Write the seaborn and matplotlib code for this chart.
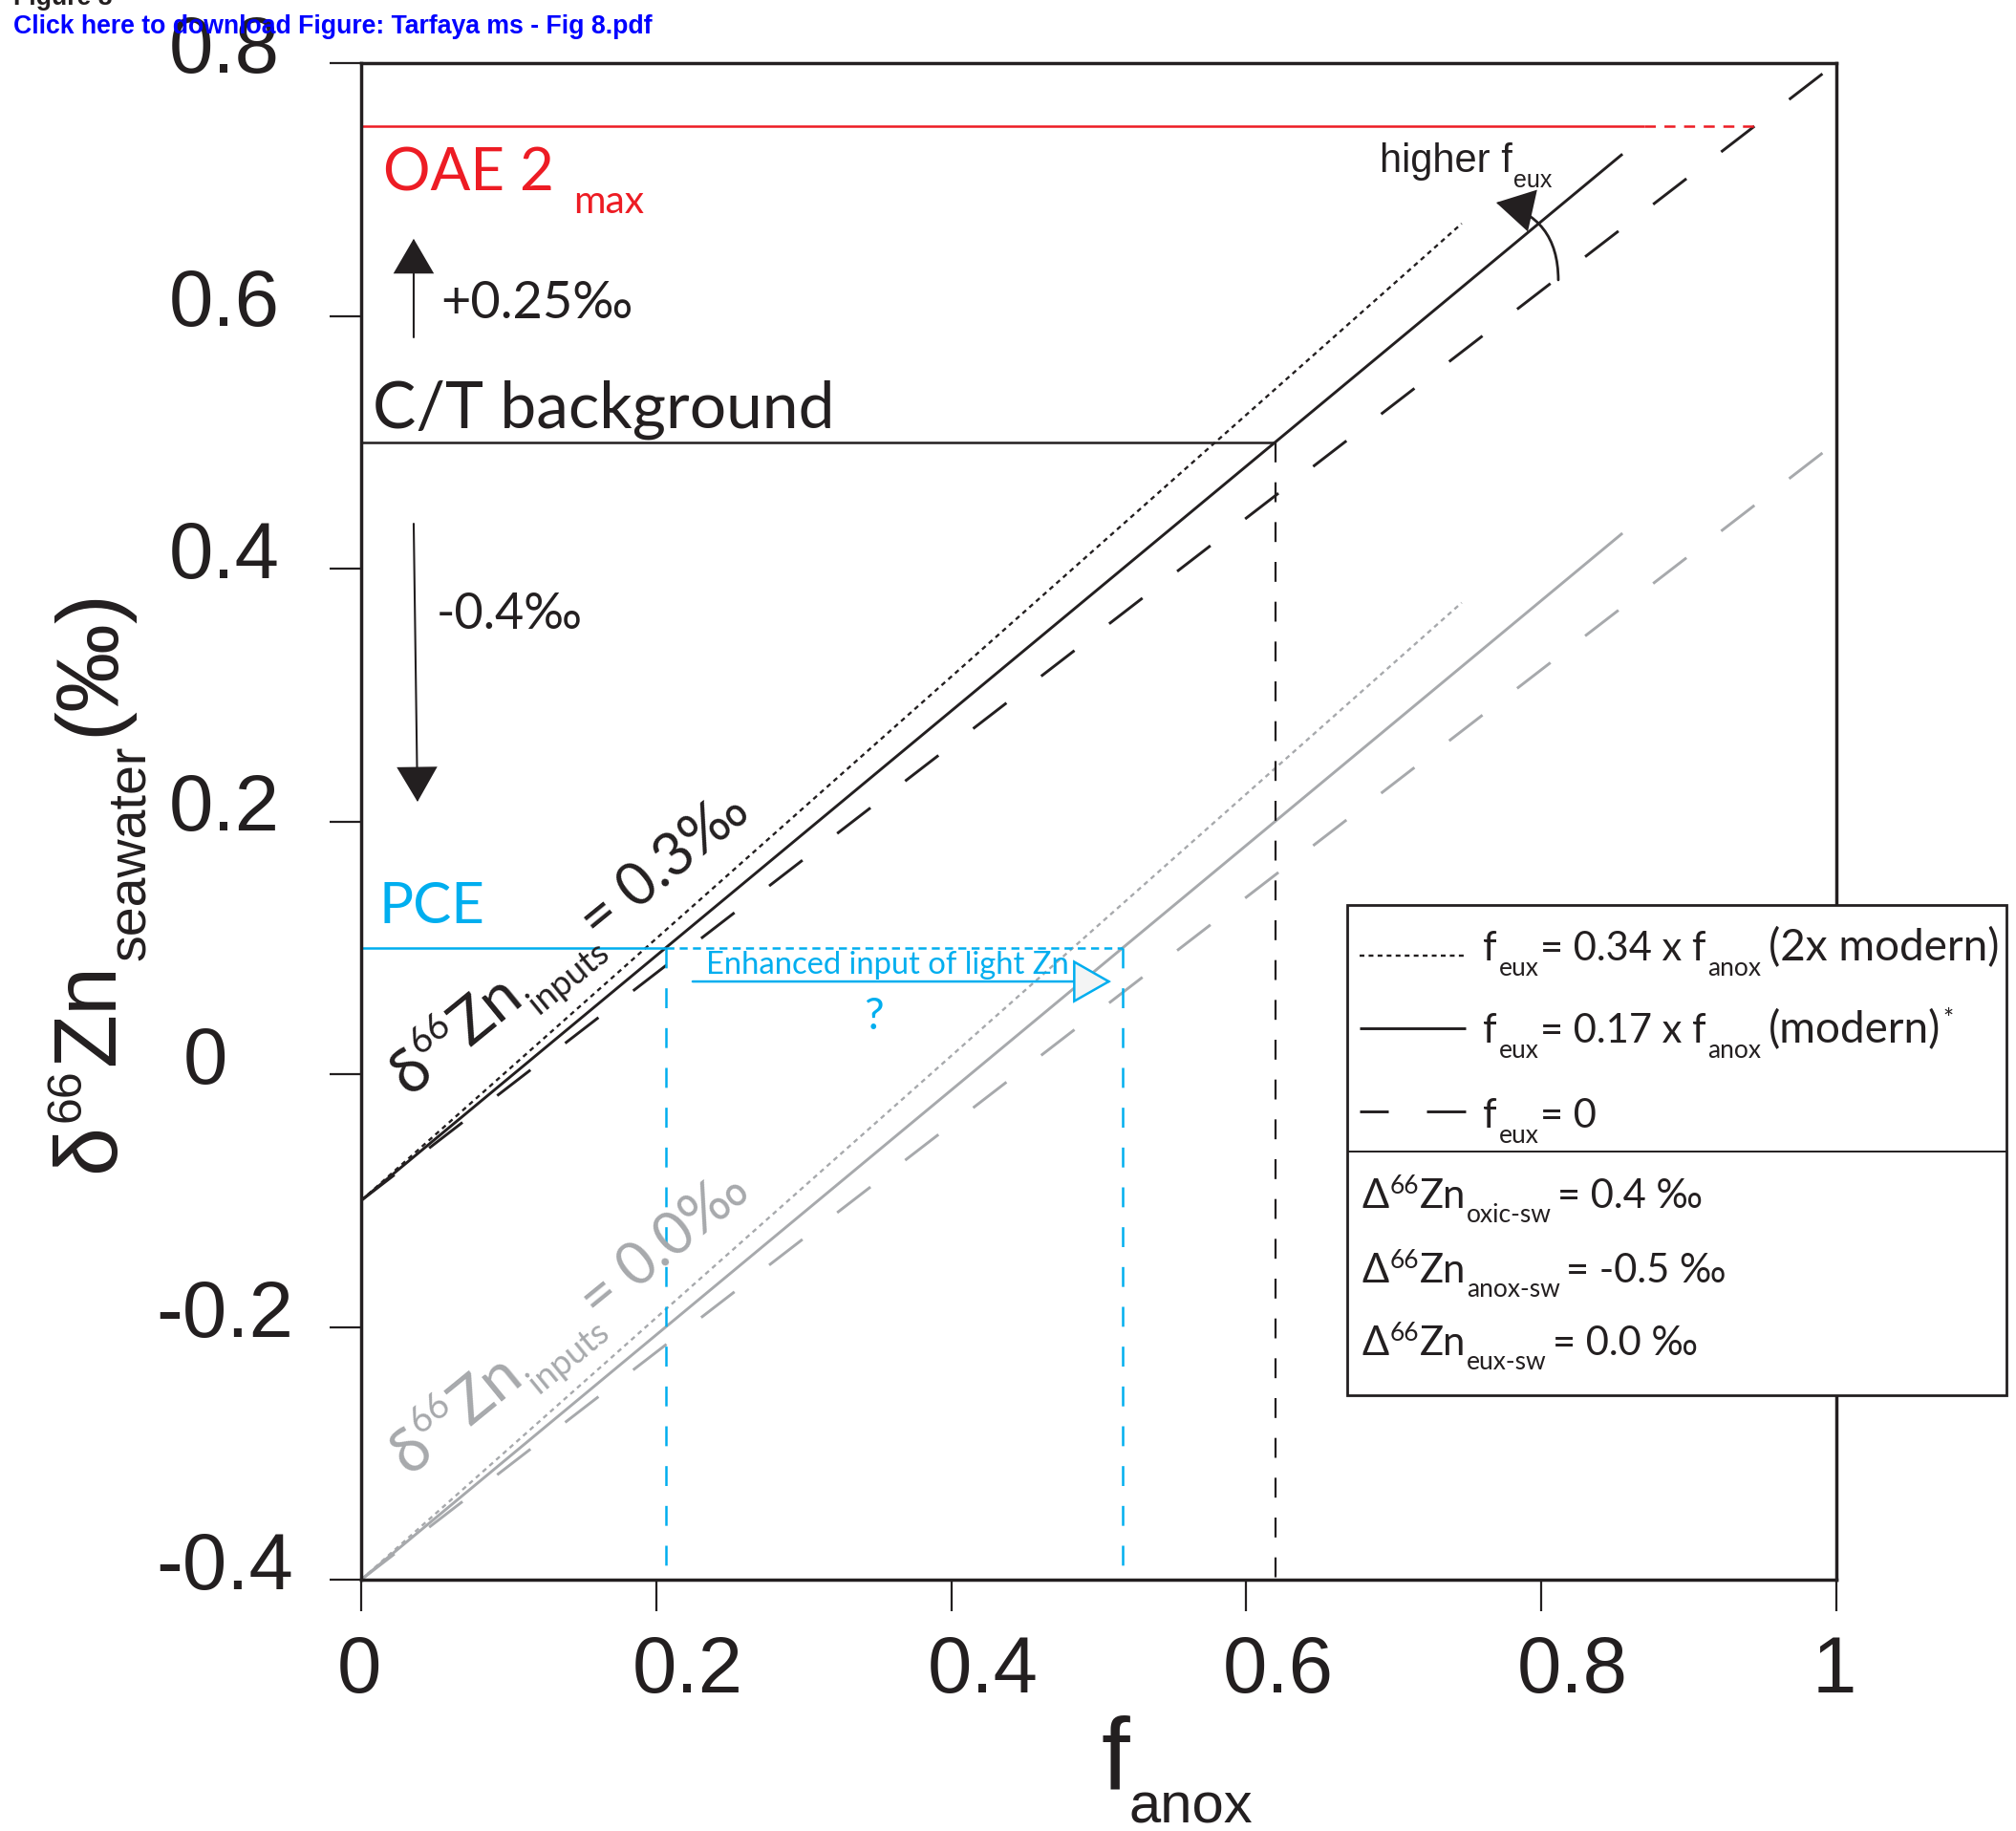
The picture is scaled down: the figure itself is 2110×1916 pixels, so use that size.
import math

import matplotlib
matplotlib.use("Agg")
import matplotlib.pyplot as plt
import numpy as np
import pandas as pd
import seaborn as sns
from matplotlib.lines import Line2D
from matplotlib.patches import FancyArrowPatch, Rectangle
from matplotlib.transforms import IdentityTransform, ScaledTranslation

W, H, DPI = 2110, 1916, 100

# ---------------------------------------------------------------- data --
# Seawater δ66Zn against the anoxic sink fraction, one straight line per
# euxinic scenario, for two values of the δ66Zn of the inputs.
scenario = ["2x modern", "modern", "no euxinia"]
f_anox_end = [0.746, 0.855, 1.0]
sw_inputs03_start = [-0.1, -0.1, -0.1]
sw_inputs03_end = [0.673, 0.728, 0.8]
sw_inputs00_start = [-0.4, -0.4, -0.4]
sw_inputs00_end = [0.373, 0.428, 0.5]

# horizontal reference levels (‰) and where they meet the model lines
oae2_max = 0.75
oae2_f_anox = [0.0, 0.87, 0.944]
ct_background = 0.5
ct_f_anox = 0.62
pce = 0.1
pce_f_anox = [0.0, 0.2066, 0.5165]

# shift arrows (f_anox, start δ66Zn, end δ66Zn)
rise_arrow = [0.0356, 0.583, 0.661]
fall_arrow = [0.0356, 0.4355, 0.2155]

x_ticks = [0, 0.2, 0.4, 0.6, 0.8, 1.0]
x_tick_labels = ["0", "0.2", "0.4", "0.6", "0.8", "1"]
y_ticks = [-0.4, -0.2, 0, 0.2, 0.4, 0.6, 0.8]
y_tick_labels = ["-0.4", "-0.2", "0", "0.2", "0.4", "0.6", "0.8"]

# --------------------------------------------------------------- style --
BLACK = "#231f20"
GREY = "#a7a9ac"
BLUE = "#00aeef"
RED = "#ed1c24"
LINK = "#0000ff"
SANS = ["Liberation Sans", "DejaVu Sans"]
HUMAN = ["Lato", "DejaVu Sans"]

sns.set_theme(style="white")
plt.rcParams["font.family"] = SANS
plt.rcParams["lines.scale_dashes"] = False
plt.rcParams["lines.solid_capstyle"] = "butt"
plt.rcParams["lines.dash_capstyle"] = "butt"

fig = plt.figure(figsize=(W / DPI, H / DPI), dpi=DPI)
fig.patch.set_facecolor("white")
AX_L, AX_R, AX_T, AX_B = 378, 1922, 66, 1653
ax = fig.add_axes([AX_L / W, 1 - AX_B / H, (AX_R - AX_L) / W, (AX_B - AX_T) / H])
ax.set_facecolor("white")

LONG_DASH = (0, (31.7, 33.0))
DOTTED = (0, (3.6, 3.2))
line_style = {"2x modern": (DOTTED, 1.7), "modern": ("-", 2.1), "no euxinia": (LONG_DASH, 2.1)}

rows = []
for inputs, starts, ends in (("0.3", sw_inputs03_start, sw_inputs03_end),
                             ("0.0", sw_inputs00_start, sw_inputs00_end)):
    for sc, fe, y0, y1 in zip(scenario, f_anox_end, starts, ends):
        rows.append(dict(inputs=inputs, scenario=sc, f_anox=0.0, d66=y0))
        rows.append(dict(inputs=inputs, scenario=sc, f_anox=fe, d66=y1))
model = pd.DataFrame(rows)

for (inputs, sc), grp in model.groupby(["inputs", "scenario"], sort=False):
    ls, lw = line_style[sc]
    sns.lineplot(data=grp, x="f_anox", y="d66", color=BLACK if inputs == "0.3" else GREY,
                 linewidth=lw, linestyle=ls, estimator=None, sort=False, ax=ax, zorder=3)


def hline(xs, y, color, lw, ls="-"):
    sns.lineplot(x=xs, y=[y] * len(xs), color=color, linewidth=lw, linestyle=ls,
                 estimator=None, sort=False, ax=ax, zorder=4)


def vline(x, y0, y1, color, lw, ls):
    sns.lineplot(x=[x, x], y=[y0, y1], color=color, linewidth=lw, linestyle=ls,
                 estimator=None, sort=False, ax=ax, zorder=4)


# OAE 2 maximum
hline(oae2_f_anox[:2], oae2_max, RED, 1.8)
hline(oae2_f_anox[1:], oae2_max, RED, 1.8, (0, (8.3, 6.5)))
# C/T background
hline([0.0, ct_f_anox], ct_background, BLACK, 1.8)
vline(ct_f_anox, ct_background, -0.4, BLACK, 1.6, (0, (15, 15)))
# PCE
hline(pce_f_anox[:2], pce, BLUE, 1.8)
hline(pce_f_anox[1:], pce, BLUE, 1.8, (0, (6, 4)))
for f in pce_f_anox[1:]:
    vline(f, pce, -0.4, BLUE, 1.8, (0, (15, 15)))

ax.set_xlim(0, 1)
ax.set_ylim(-0.4, 0.8)
ax.set_xlabel("")
ax.set_ylabel("")


def arrow(p0, p1, ec, fc, lw, hl, hw, rad=0.0, z=6):
    ax.add_patch(FancyArrowPatch(
        p0, p1, arrowstyle=f"-|>,head_length={hl},head_width={hw}",
        connectionstyle=f"arc3,rad={rad}", mutation_scale=1, shrinkA=0, shrinkB=0,
        edgecolor=ec, facecolor=fc, linewidth=lw, zorder=z, joinstyle="miter"))


arrow((rise_arrow[0], rise_arrow[1]), (rise_arrow[0], rise_arrow[2]), BLACK, BLACK, 1.5, 24, 14)
arrow((fall_arrow[0], fall_arrow[1]), (fall_arrow[0] + 0.0026, fall_arrow[2]), BLACK, BLACK, 1.5, 24, 14)
arrow((0.2247, 0.0733), (0.5084, 0.0733), BLUE, "#f3f4f4", 1.8, 26, 14.8, z=7)
arrow((0.8115, 0.6284), (0.7694, 0.6896), BLACK, BLACK, 2.0, 25, 14.4, rad=0.4)

# ---------------------------------------------------------------- axes --
ax.set_xticks(x_ticks)
ax.set_xticklabels(x_tick_labels)
ax.set_yticks(y_ticks)
ax.set_yticklabels(y_tick_labels)
ax.tick_params(axis="both", which="major", direction="out", length=24, width=1.6,
               color=BLACK, labelsize=60, labelcolor=BLACK,
               bottom=True, left=True, top=False, right=False)
ax.tick_params(axis="x", pad=17)
ax.tick_params(axis="y", pad=79)
for sp in ax.spines.values():
    sp.set_visible(True)
    sp.set_color(BLACK)
    sp.set_linewidth(2.5)
    sp.set_zorder(5)

shift_x = ScaledTranslation(-25 / DPI, 0, fig.dpi_scale_trans)
for lbl in ax.get_xticklabels():
    lbl.set_horizontalalignment("left")
    lbl.set_transform(lbl.get_transform() + shift_x)
for lbl in ax.get_yticklabels():
    dx = -20 if lbl.get_text() == "0" else 0
    lbl.set_horizontalalignment("center")
    lbl.set_verticalalignment("baseline")
    lbl.set_transform(lbl.get_transform()
                      + ScaledTranslation(dx / DPI, -10 / DPI, fig.dpi_scale_trans))

# ---------------------------------------------------------------- text --
renderer = fig.canvas.get_renderer()
PIX = IdentityTransform()


def measure(s, size, family, weight="normal"):
    t = fig.text(0, 0, s, fontsize=size, family=family, weight=weight, transform=PIX)
    w = t.get_window_extent(renderer).width
    t.remove()
    return w


def fit(s, width, family, weight="normal"):
    return 40 * width / measure(s, 40, family, weight)


def put(x, y, s, size, color=BLACK, family=HUMAN, weight="normal", ha="left", z=12):
    """Place text with its baseline at pixel (x, y), y counted from the top."""
    fig.text(x, H - y, s, transform=PIX, fontsize=size, family=family, weight=weight,
             color=color, ha=ha, va="baseline", zorder=z)


def chain(x, y, pieces, angle=0.0, color=BLACK, family=HUMAN, z=12):
    """Run text pieces along one baseline that starts at pixel (x, y).
    Each piece is (text, size, rise_px, gap_px)."""
    a = math.radians(angle)
    ca, sa = math.cos(a), math.sin(a)
    bx, by = x, H - y
    for s, size, rise, gap in pieces:
        bx += ca * gap
        by += sa * gap
        fig.text(bx - sa * rise, by + ca * rise, s, transform=PIX, fontsize=size,
                 family=family, color=color, rotation=angle, rotation_mode="anchor",
                 ha="left", va="baseline", zorder=z)
        w = measure(s, size, family)
        bx += ca * w
        by += sa * w


# page header
hdr = "Click here to download Figure: Tarfaya ms - Fig 8.pdf"
hdr_size = fit(hdr, 670, SANS, "bold")
put(14, 5, "Figure 8", hdr_size, BLACK, SANS, "bold")
put(14, 35, hdr, hdr_size, LINK, SANS, "bold")

# annotations inside the plot
put(401, 199, "OAE 2", fit("OAE 2", 179, HUMAN), RED)
put(600, 223, "max", fit("max", 74, HUMAN), RED)
put(461, 333, "+0.25‰", fit("+0.25‰", 201, HUMAN))
put(390, 448, "C/T background", fit("C/T background", 483, HUMAN))
put(457, 658, "-0.4‰", fit("-0.4‰", 153, HUMAN))
put(397, 966, "PCE", fit("PCE", 111, HUMAN), BLUE)
put(739, 1019, "Enhanced input of light Zn", fit("Enhanced input of light Zn", 380, HUMAN), BLUE)
put(914, 1077, "?", 33, BLUE, ha="center")

ANGLE = 39.2
inputs_label = [("δ", 47, 0, 0), ("66", 27, 26, 1), ("Zn", 47, 0, 1), ("inputs", 26, -20, 2)]
chain(428, 1148, inputs_label + [("= 0.3‰", 44, 0, 0)], angle=ANGLE)
chain(428, 1545, inputs_label + [("= 0.0‰", 44, 0, 0)], angle=ANGLE, color=GREY)

chain(1444, 180, [("higher f", 30, 0, 0), ("eux", 18, -16, 1)], family=SANS)

# axis titles
chain(119, 1227, [("δ", 66, 0, 0), ("66", 36, 36, 2), ("Zn", 66, 0, 3),
                  ("seawater", 40, -32, 3), ("(‰)", 67, 0, 10)], angle=90, family=SANS)
chain(1152, 1873, [("f", 77, 0, 0), ("anox", 43, -34, 0)], family=SANS)

# ---------------------------------------------------------------- key --
LX0, LY0, LX1, LY1 = 1410, 947, 2100, 1460
fig.add_artist(Rectangle((LX0, H - LY1), LX1 - LX0, LY1 - LY0, transform=PIX,
                         facecolor="white", edgecolor=BLACK, linewidth=2.0, zorder=10))
fig.add_artist(Line2D([LX0, LX1], [H - 1205, H - 1205], transform=PIX, color=BLACK,
                      linewidth=1.4, zorder=11))
key_styles = [(DOTTED, 1.7), ("-", 2.1), ((0, (21.6, 28.8, 29.5, 28.8)), 2.1)]
key_y = [1000, 1076, 1163]
for (ls, lw), ky in zip(key_styles, key_y):
    fig.add_artist(Line2D([1423, 1534], [H - ky, H - ky], transform=PIX, color=BLACK,
                          linewidth=lw, linestyle=ls, zorder=11))

KEY, SUB, NOTE = 30, 19, 33
chain(1552, 1005, [("f", KEY, 0, 0), ("eux", SUB, -16, 2), ("= 0.34 x f", KEY, 0, 1),
                   ("anox", SUB, -16, 2), ("(2x modern)", NOTE, 0, 8)])
chain(1552, 1091, [("f", KEY, 0, 0), ("eux", SUB, -16, 2), ("= 0.17 x f", KEY, 0, 1),
                   ("anox", SUB, -16, 2), ("(modern)", NOTE, 0, 8), ("*", SUB, 16, 2)])
chain(1552, 1180, [("f", KEY, 0, 0), ("eux", SUB, -16, 2), ("= 0", KEY, 0, 1)])

chain(1425, 1264, [("Δ", KEY, 0, 0), ("66", SUB, 15, 1), ("Zn", KEY, 0, 1),
                   ("oxic-sw", SUB, -15, 1), ("= 0.4 ‰", KEY, 0, 6)])
chain(1425, 1342, [("Δ", KEY, 0, 0), ("66", SUB, 15, 1), ("Zn", KEY, 0, 1),
                   ("anox-sw", SUB, -15, 1), ("= -0.5 ‰", KEY, 0, 6)])
chain(1425, 1418, [("Δ", KEY, 0, 0), ("66", SUB, 15, 1), ("Zn", KEY, 0, 1),
                   ("eux-sw", SUB, -15, 1), ("= 0.0 ‰", KEY, 0, 6)])

fig.savefig("out.png", dpi=DPI, facecolor="white")
